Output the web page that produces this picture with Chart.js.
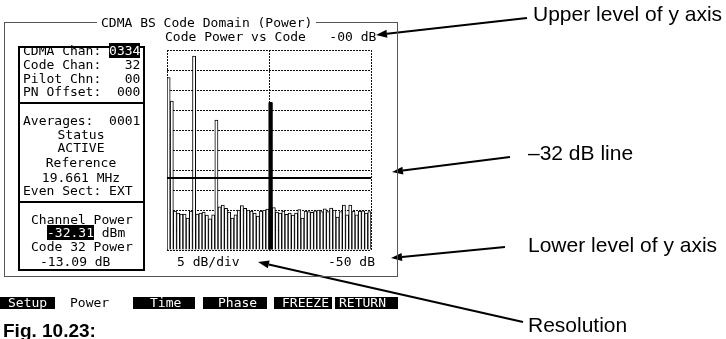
<!DOCTYPE html>
<html>
<head>
<meta charset="utf-8">
<script src="https://cdn.jsdelivr.net/npm/chart.js@4.4.1/dist/chart.umd.min.js"></script>
<style>
  html, body { margin: 0; padding: 0; background: #fff; }
  #wrap { position: relative; width: 726px; height: 339px; overflow: hidden; }
  #chart { position: absolute; left: 0; top: 0; }
  .t {
    position: absolute;
    font-family: "DejaVu Sans Mono", monospace;
    font-size: 13px;
    line-height: 14px;
    white-space: pre;
    color: #000;
  }
  .c { left: 18px; width: 126px; text-align: center; }
  .inv { background: #000; color: #fff; }
  .frame { position: absolute; left: 4px; top: 22px; width: 394px; height: 255px; border: 1px solid #555; box-sizing: border-box; }
  .panel { position: absolute; left: 18px; top: 46px; width: 127px; height: 225px; border: 2px solid #000; box-sizing: border-box; }
  .sep { position: absolute; left: 18px; width: 127px; height: 2px; background: #000; }
  .key {
    position: absolute;
    top: 297px;
    height: 12px;
    font-family: "DejaVu Sans Mono", monospace;
    font-size: 13px;
    line-height: 12px;
    white-space: pre;
    background: #000;
    color: #fff;
    box-sizing: border-box;
  }
  .note {
    position: absolute;
    font-family: "Liberation Sans", Arial, sans-serif;
    font-size: 21px;
    line-height: 21px;
    white-space: nowrap;
    color: #000;
  }
</style>
</head>
<body>
<div id="wrap">
  <canvas id="chart" width="726" height="339"></canvas>

  <div class="frame"></div>
  <div class="t" style="left:97px; top:16px; background:#fff; padding:0 4px;">CDMA BS Code Domain (Power)</div>
  <div class="t" style="left:165px; top:30px;">Code Power vs Code   -00 dB</div>

  <div class="panel"></div>
  <div class="sep" style="top:102px;"></div>
  <div class="sep" style="top:201px;"></div>

  <div class="t" style="left:23px; top:44px;">CDMA Chan: <span class="inv">0334</span></div>
  <div class="t" style="left:23px; top:58px;">Code Chan:   32</div>
  <div class="t" style="left:23px; top:72px;">Pilot Chn:   00</div>
  <div class="t" style="left:23px; top:85px;">PN Offset:  000</div>

  <div class="t" style="left:23px; top:114px;">Averages:  0001</div>
  <div class="t c" style="top:128px;">Status</div>
  <div class="t c" style="top:141px;">ACTIVE</div>
  <div class="t c" style="top:156px;">Reference</div>
  <div class="t c" style="top:171px;">19.661 MHz</div>
  <div class="t" style="left:23px; top:184px;">Even Sect: EXT</div>

  <div class="t" style="left:31px; top:213px;">Channel Power</div>
  <div class="t" style="left:47px; top:226px;"><span class="inv">-32.31</span> dBm</div>
  <div class="t" style="left:31px; top:240px;">Code 32 Power</div>
  <div class="t" style="left:40px; top:255px;">-13.09 dB</div>

  <div class="t" style="left:177px; top:255px;">5 dB/div</div>
  <div class="t" style="left:328px; top:255px;">-50 dB</div>

  <div class="key" style="left:0px; width:55px; padding-left:8px;">Setup</div>
  <div class="key" style="left:70px; background:#fff; color:#000;">Power</div>
  <div class="key" style="left:133px; width:62px; padding-left:17px;">Time</div>
  <div class="key" style="left:203px; width:64px; padding-left:15px;">Phase</div>
  <div class="key" style="left:274px; width:58px; padding-left:8px;">FREEZE</div>
  <div class="key" style="left:335px; width:63px; padding-left:4px;">RETURN</div>

  <div class="note" style="left:533px; top:3px;">Upper level of y axis</div>
  <div class="note" style="left:528px; top:142px;">–32 dB line</div>
  <div class="note" style="left:528px; top:234px;">Lower level of y axis</div>
  <div class="note" style="left:528px; top:314px;">Resolution</div>
  <div class="note" style="left:3px; top:321px; font-size:19px; line-height:19px; font-weight:bold;">Fig. 10.23:</div>
</div>

<script>
// Walsh codes 0..63
const codes = Array.from({ length: 64 }, (_, i) => i);

// Code power in dB
const codePower = [
  -6.9, -12.8, -40.3, -40.8, -41.0, -41.0, -42.0, -40.3,
  -1.5, -41.0, -40.8, -40.5, -41.3, -42.2, -41.2, -17.5,
  -39.2, -38.8, -39.6, -40.5, -42.0, -41.2, -40.0, -38.9,
  -39.6, -40.0, -40.3, -40.8, -41.5, -40.3, -40.0, -39.8,
  -13.1, -39.4, -40.5, -40.8, -40.3, -41.1, -40.8, -41.3,
  -40.8, -39.9, -42.0, -40.3, -40.4, -40.6, -40.2, -40.0,
  -40.4, -39.7, -40.4, -39.5, -40.0, -41.8, -40.4, -38.8,
  -41.2, -38.8, -40.3, -41.2, -40.3, -40.2, -40.8, -40.4
];

// y axis: upper / lower level and resolution
const yTop = 0;
const yBottom = -50;
const dbPerDiv = 5;
const refLevel = -32;      // the -32 dB line
const selectedCode = 32;   // code shown as a thick filled bar
const codeStep = 32;       // vertical divisions on the code axis

// -32 dB line + callout arrows
const overlay = {
  id: 'overlay',
  afterDatasetsDraw(chart) {
    const { ctx, chartArea: a, scales: { y } } = chart;
    const py = Math.round(y.getPixelForValue(refLevel));
    ctx.save();
    ctx.strokeStyle = '#000';
    ctx.lineWidth = 2;
    ctx.beginPath();
    ctx.moveTo(a.left, py);
    ctx.lineTo(a.right, py);
    ctx.stroke();
    ctx.restore();
  },
  afterDraw(chart) {
    const ctx = chart.ctx;
    const arrows = [
      [527, 18, 376, 35],
      [510, 157, 392, 172],
      [505, 247, 391, 258],
      [523, 322, 258, 262]
    ];
    ctx.save();
    ctx.strokeStyle = '#000';
    ctx.fillStyle = '#000';
    ctx.lineWidth = 2;
    arrows.forEach(([x1, y1, x2, y2]) => {
      const ang = Math.atan2(y2 - y1, x2 - x1);
      const len = 11, w = 4;
      const bx = x2 - len * Math.cos(ang);
      const by = y2 - len * Math.sin(ang);
      ctx.beginPath();
      ctx.moveTo(x1, y1);
      ctx.lineTo(bx, by);
      ctx.stroke();
      ctx.beginPath();
      ctx.moveTo(x2, y2);
      ctx.lineTo(bx + w * Math.sin(ang), by - w * Math.cos(ang));
      ctx.lineTo(bx - w * Math.sin(ang), by + w * Math.cos(ang));
      ctx.closePath();
      ctx.fill();
    });
    ctx.restore();
  }
};

const ctx = document.getElementById('chart').getContext('2d');
new Chart(ctx, {
  type: 'bar',
  data: {
    labels: codes,
    datasets: [{
      // thick highlighted bar for the selected code, drawn on top
      data: codes.map(c => c === selectedCode ? codePower[c] : null),
      base: yBottom,
      grouped: false,
      order: 0,
      backgroundColor: '#000',
      borderWidth: 0,
      barPercentage: 1.3,
      categoryPercentage: 1
    }, {
      data: codePower,
      base: yBottom,
      grouped: false,
      order: 1,
      backgroundColor: '#fff',
      borderColor: '#000',
      borderWidth: 1,
      borderSkipped: 'bottom',
      barPercentage: 1,
      categoryPercentage: 1
    }]
  },
  options: {
    responsive: false,
    animation: false,
    layout: { padding: { left: 167, top: 50, right: 355, bottom: 89 } },
    plugins: {
      legend: { display: false },
      tooltip: { enabled: false }
    },
    scales: {
      x: { display: false },
      xDiv: {
        type: 'linear',
        position: 'bottom',
        offset: false,
        min: 0,
        max: codes.length,
        ticks: { display: false, stepSize: codeStep },
        grid: { color: '#111', drawTicks: false, lineWidth: 1, offset: false },
        border: { display: false, dash: [2, 1] }
      },
      y: {
        min: yBottom,
        max: yTop,
        ticks: { display: false, stepSize: dbPerDiv },
        grid: { color: '#111', drawTicks: false, lineWidth: 1 },
        border: { display: false, dash: [2, 1] }
      }
    }
  },
  plugins: [overlay]
});
</script>
</body>
</html>
